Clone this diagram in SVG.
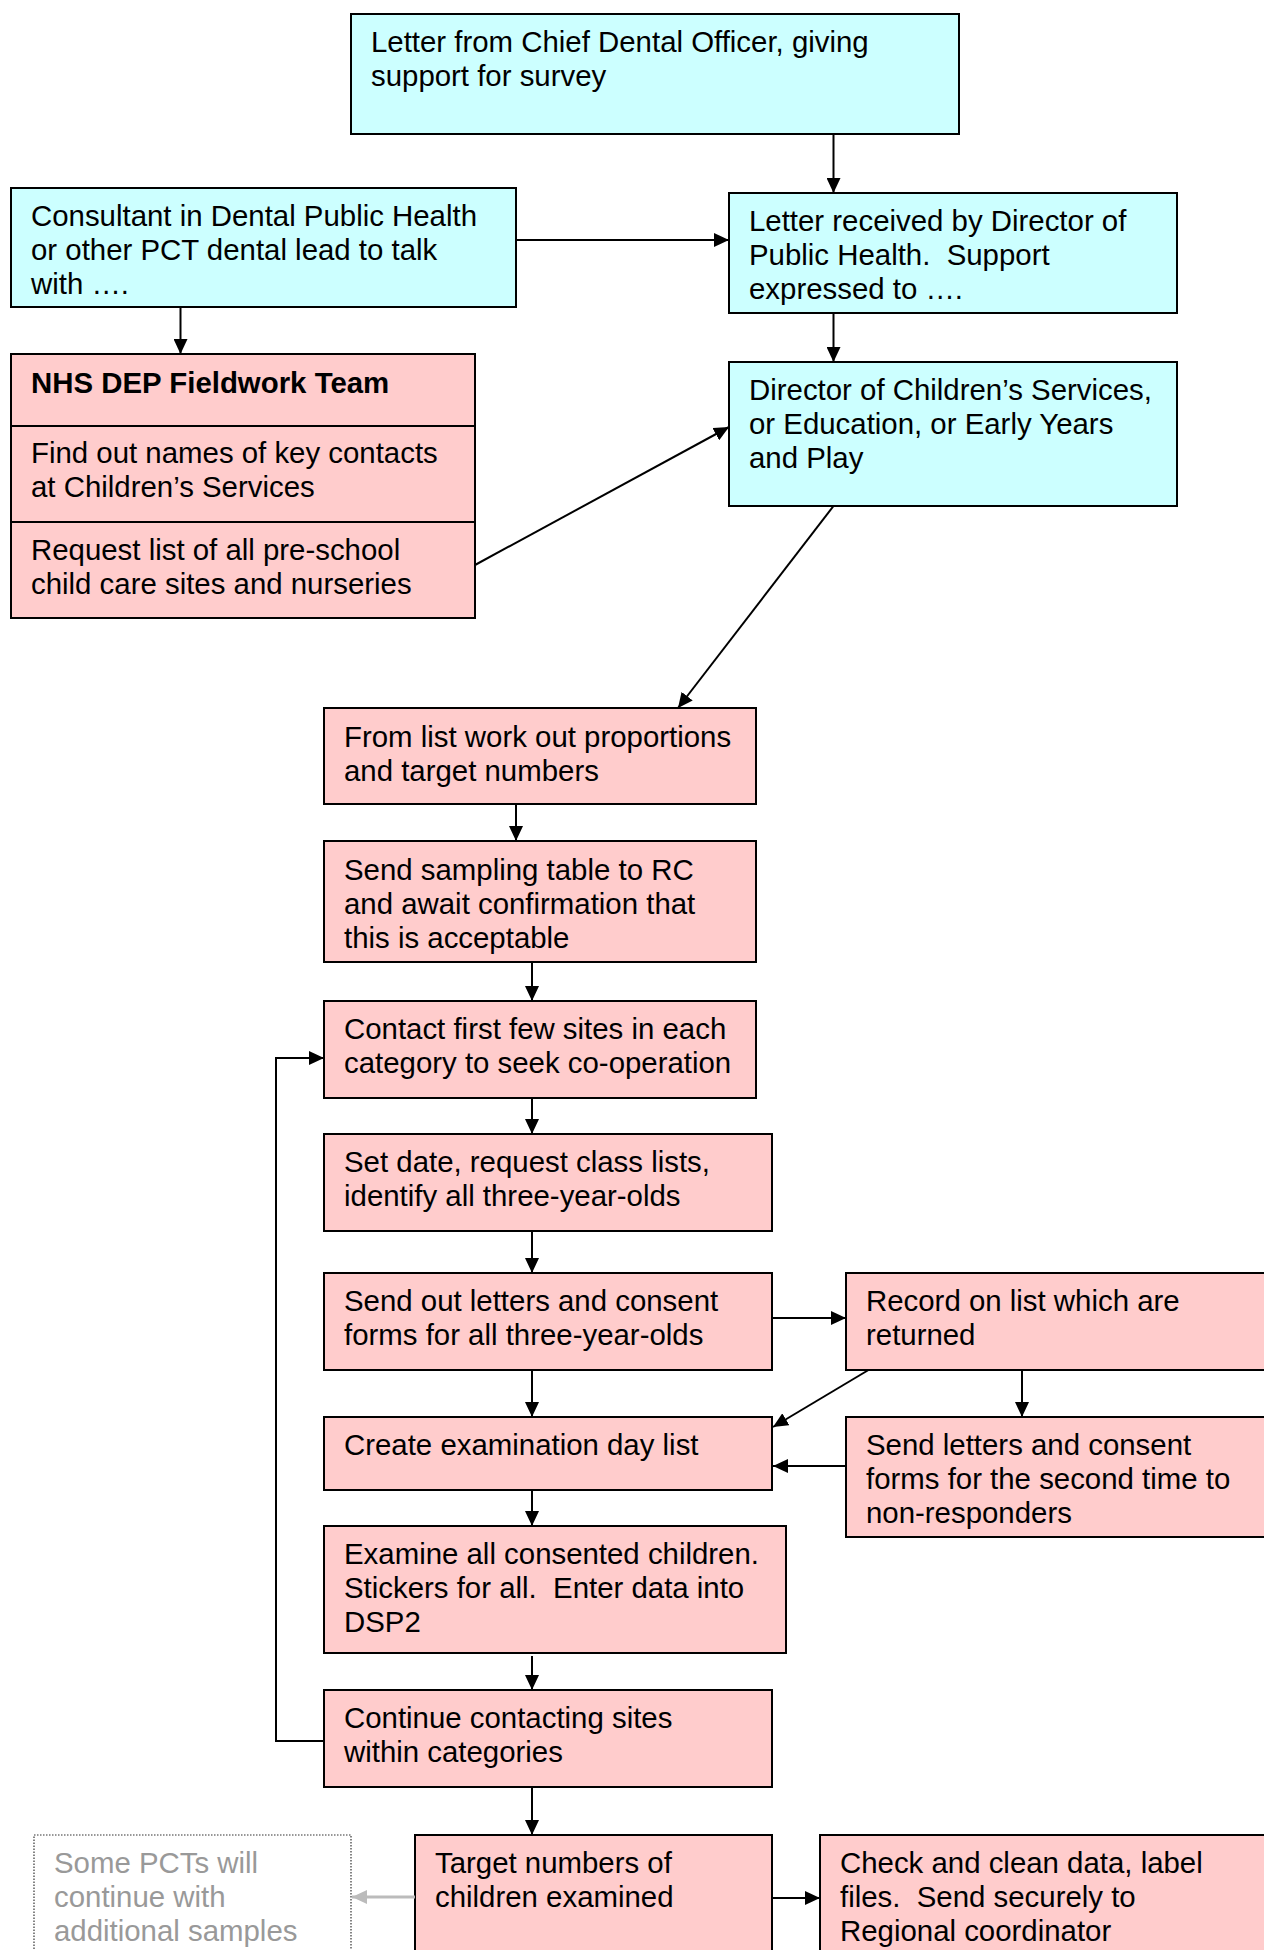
<svg xmlns="http://www.w3.org/2000/svg" width="1264" height="1950" viewBox="0 0 1264 1950">
<style>
.box{stroke:#000;stroke-width:2}
.cyan{fill:#CCFFFF}
.pink{fill:#FFCCCC}
text{font-family:"Liberation Sans",Arial,sans-serif;font-size:29.4px;fill:#000;white-space:pre}
.bold{font-weight:bold}
.gray{fill:#999999}
.conn{stroke:#000;stroke-width:2;fill:none}
.gconn{stroke:#BBBBBB;stroke-width:3;fill:none}
</style>
<defs>
<marker id="arr" markerUnits="userSpaceOnUse" markerWidth="15" markerHeight="14" refX="15" refY="7" orient="auto"><path d="M0,0 L15,7 L0,14 z" fill="#000"/></marker>
<marker id="garr" markerUnits="userSpaceOnUse" markerWidth="15" markerHeight="14" refX="15" refY="7" orient="auto"><path d="M0,0 L15,7 L0,14 z" fill="#BBBBBB"/></marker>
</defs>
<rect width="1264" height="1950" fill="#fff"/>

<g id="n_letter_cdo">
<rect class="box cyan" x="351" y="14" width="608" height="120"/>
<text x="371" y="52">Letter from Chief Dental Officer, giving</text>
<text x="371" y="86">support for survey</text>
</g>

<g id="n_consultant">
<rect class="box cyan" x="11" y="188" width="505" height="119"/>
<text x="31" y="226">Consultant in Dental Public Health</text>
<text x="31" y="260">or other PCT dental lead to talk</text>
<text x="31" y="294">with ….</text>
</g>

<g id="n_letter_received">
<rect class="box cyan" x="729" y="193" width="448" height="120"/>
<text x="749" y="231">Letter received by Director of</text>
<text x="749" y="265" xml:space="preserve">Public Health.  Support</text>
<text x="749" y="299">expressed to ….</text>
</g>

<g id="n_director">
<rect class="box cyan" x="729" y="362" width="448" height="144"/>
<text x="749" y="400">Director of Children’s Services,</text>
<text x="749" y="434">or Education, or Early Years</text>
<text x="749" y="468">and Play</text>
</g>

<g id="n_nhs_team">
<rect class="box pink" x="11" y="354" width="464" height="264"/>
<line class="box" x1="11" y1="426" x2="475" y2="426"/>
<line class="box" x1="11" y1="522" x2="475" y2="522"/>
<text class="bold" x="31" y="393">NHS DEP Fieldwork Team</text>
<text x="31" y="463">Find out names of key contacts</text>
<text x="31" y="497">at Children’s Services</text>
<text x="31" y="560">Request list of all pre-school</text>
<text x="31" y="594">child care sites and nurseries</text>
</g>

<g id="n_from_list">
<rect class="box pink" x="324" y="708" width="432" height="96"/>
<text x="344" y="747">From list work out proportions</text>
<text x="344" y="781">and target numbers</text>
</g>

<g id="n_send_sampling">
<rect class="box pink" x="324" y="841" width="432" height="121"/>
<text x="344" y="880">Send sampling table to RC</text>
<text x="344" y="914">and await confirmation that</text>
<text x="344" y="948">this is acceptable</text>
</g>

<g id="n_contact">
<rect class="box pink" x="324" y="1001" width="432" height="97"/>
<text x="344" y="1039">Contact first few sites in each</text>
<text x="344" y="1073">category to seek co-operation</text>
</g>

<g id="n_set_date">
<rect class="box pink" x="324" y="1134" width="448" height="97"/>
<text x="344" y="1172">Set date, request class lists,</text>
<text x="344" y="1206">identify all three-year-olds</text>
</g>

<g id="n_send_out">
<rect class="box pink" x="324" y="1273" width="448" height="97"/>
<text x="344" y="1311">Send out letters and consent</text>
<text x="344" y="1345">forms for all three-year-olds</text>
</g>

<g id="n_record">
<rect class="box pink" x="846" y="1273" width="424" height="97"/>
<text x="866" y="1311">Record on list which are</text>
<text x="866" y="1345">returned</text>
</g>

<g id="n_create">
<rect class="box pink" x="324" y="1417" width="448" height="73"/>
<text x="344" y="1455">Create examination day list</text>
</g>

<g id="n_send_letters">
<rect class="box pink" x="846" y="1417" width="424" height="120"/>
<text x="866" y="1455">Send letters and consent</text>
<text x="866" y="1489">forms for the second time to</text>
<text x="866" y="1523">non-responders</text>
</g>

<g id="n_examine">
<rect class="box pink" x="324" y="1526" width="462" height="127"/>
<text x="344" y="1564">Examine all consented children.</text>
<text x="344" y="1598" xml:space="preserve">Stickers for all.  Enter data into</text>
<text x="344" y="1632">DSP2</text>
</g>

<g id="n_continue">
<rect class="box pink" x="324" y="1690" width="448" height="97"/>
<text x="344" y="1728">Continue contacting sites</text>
<text x="344" y="1762">within categories</text>
</g>

<g id="n_target">
<rect class="box pink" x="415" y="1835" width="357" height="130"/>
<text x="435" y="1873">Target numbers of</text>
<text x="435" y="1907">children examined</text>
</g>

<g id="n_check">
<rect class="box pink" x="820" y="1835" width="450" height="130"/>
<text x="840" y="1873">Check and clean data, label</text>
<text x="840" y="1907" xml:space="preserve">files.  Send securely to</text>
<text x="840" y="1941">Regional coordinator</text>
</g>

<g id="n_some_pcts">
<rect x="34" y="1835" width="317" height="130" fill="none" stroke="#333" stroke-width="1.2" stroke-dasharray="1.5,1.5"/>
<text class="gray" x="54" y="1873">Some PCTs will</text>
<text class="gray" x="54" y="1907">continue with</text>
<text class="gray" x="54" y="1941">additional samples</text>
</g>

<g id="connectors">
<line class="conn" x1="833.5" y1="134" x2="833.5" y2="193" marker-end="url(#arr)"/>
<line class="conn" x1="516" y1="240" x2="729" y2="240" marker-end="url(#arr)"/>
<line class="conn" x1="180.5" y1="307" x2="180.5" y2="354" marker-end="url(#arr)"/>
<line class="conn" x1="833.5" y1="313" x2="833.5" y2="362" marker-end="url(#arr)"/>
<line class="conn" x1="475" y1="565" x2="729" y2="427" marker-end="url(#arr)"/>
<line class="conn" x1="833.5" y1="506" x2="678" y2="708" marker-end="url(#arr)"/>
<line class="conn" x1="516" y1="804" x2="516" y2="841" marker-end="url(#arr)"/>
<line class="conn" x1="532" y1="962" x2="532" y2="1001" marker-end="url(#arr)"/>
<line class="conn" x1="532" y1="1098" x2="532" y2="1134" marker-end="url(#arr)"/>
<line class="conn" x1="532" y1="1231" x2="532" y2="1273" marker-end="url(#arr)"/>
<line class="conn" x1="772" y1="1318" x2="846" y2="1318" marker-end="url(#arr)"/>
<line class="conn" x1="532" y1="1370" x2="532" y2="1417" marker-end="url(#arr)"/>
<line class="conn" x1="868.5" y1="1370" x2="773" y2="1427" marker-end="url(#arr)"/>
<line class="conn" x1="1022" y1="1370" x2="1022" y2="1417" marker-end="url(#arr)"/>
<line class="conn" x1="846" y1="1466" x2="773" y2="1466" marker-end="url(#arr)"/>
<line class="conn" x1="532" y1="1490" x2="532" y2="1526" marker-end="url(#arr)"/>
<line class="conn" x1="532" y1="1656" x2="532" y2="1690" marker-end="url(#arr)"/>
<polyline class="conn" points="324,1741 276,1741 276,1058 324,1058" marker-end="url(#arr)"/>
<line class="conn" x1="532" y1="1787" x2="532" y2="1835" marker-end="url(#arr)"/>
<line class="conn" x1="772" y1="1898" x2="820" y2="1898" marker-end="url(#arr)"/>
<line class="gconn" x1="415" y1="1897" x2="352" y2="1897" marker-end="url(#garr)"/>
</g>
</svg>
